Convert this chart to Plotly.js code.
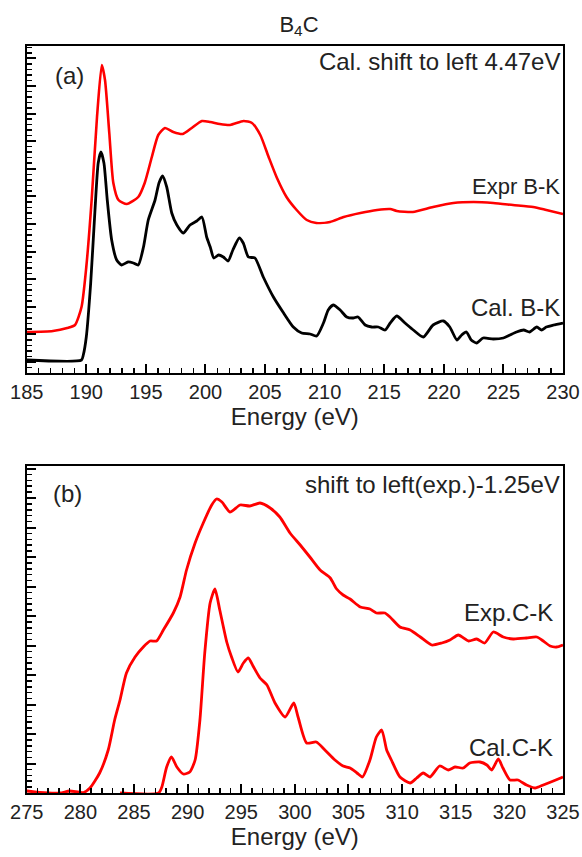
<!DOCTYPE html>
<html>
<head>
<meta charset="utf-8">
<script src="https://cdn.plot.ly/plotly-3.0.1.min.js"></script>
<style>html,body{margin:0;padding:0;background:#fff;}</style>
</head>
<body>
<div id="chart" style="width:582px;height:857px;"></div>
<script>
// ---------- Panel (a): B K-edge ----------
const bkExpEnergy = [185, 187.2, 188.4, 189.05, 189.6, 190.0, 190.45, 190.9, 191.3, 191.57, 191.93, 192.27, 192.7, 193.4, 194.36, 194.9, 195.5, 196.04, 196.6, 197.3, 198.1, 198.85, 199.7, 200.4, 201.2, 202.06, 203.2, 203.9, 204.6, 205.3, 206.0, 206.8, 207.65, 208.5, 209.3, 210.45, 211.6, 213.0, 214.4, 215.5, 216.05, 217.4, 219.1, 220.8, 222.5, 224.15, 225.8, 227.5, 228.6, 230];
const bkExpIntensity = [41, 42, 45, 48, 66, 106, 173, 256, 308, 293, 240, 190, 173, 169, 176, 190, 216, 238, 245, 241, 239, 245, 252, 251, 249, 248, 252, 250, 238, 216, 195, 176, 163, 153, 150, 151, 156, 160, 163, 164, 162, 161, 166, 170, 171, 170, 168, 166, 163, 159];

const bkCalEnergy = [185, 189.6, 189.75, 190.0, 190.37, 190.73, 191.0, 191.23, 191.48, 191.76, 192.13, 192.55, 192.97, 193.5, 193.95, 194.36, 194.8, 195.2, 195.77, 196.1, 196.4, 196.75, 197.17, 197.6, 198.14, 198.7, 199.27, 199.7, 200.1, 200.4, 200.7, 201.1, 201.5, 201.9, 202.3, 202.84, 203.17, 203.6, 204.15, 204.85, 205.7, 206.5, 207.37, 208.07, 208.77, 209.33, 209.9, 210.3, 210.72, 211.3, 211.85, 212.4, 212.8, 213.4, 213.95, 214.5, 215.07, 215.5, 216.05, 216.74, 217.44, 218.28, 219.1, 219.96, 220.5, 221.1, 221.5, 221.9, 222.3, 222.76, 223.3, 224.15, 225.0, 225.55, 226.1, 226.7, 227.2, 227.8, 228.2, 228.6, 229.2, 230];
const bkCalIntensity = [13, 13, 18, 36, 90, 163, 210, 221, 210, 173, 133, 113, 108, 111, 110, 108, 126, 153, 173, 190, 197, 186, 160, 148, 140, 148, 152, 156, 136, 126, 115, 118, 116, 112, 123, 135, 130, 116, 115, 96, 76, 61, 46, 40, 39, 37, 50, 63, 68, 63, 56, 55, 56, 48, 46, 46, 43, 50, 57, 50, 43, 36, 48, 52, 46, 33, 38, 41, 33, 30, 35, 34, 35, 38, 41, 43, 41, 46, 43, 46, 48, 50];

// ---------- Panel (b): C K-edge ----------
const ckExpEnergy = [275, 276.2, 278.1, 279.0, 280.3, 280.9, 281.8, 282.6, 283.2, 283.7, 284.3, 285.1, 285.87, 286.5, 287.1, 287.74, 288.67, 289.3, 289.9, 290.7, 291.46, 292.25, 292.7, 293.2, 293.95, 294.9, 295.8, 296.75, 297.7, 298.6, 299.55, 300.5, 301.4, 302.35, 303.3, 303.9, 304.5, 305.15, 306.1, 307.0, 307.6, 308.4, 308.87, 309.8, 310.75, 311.7, 312.76, 313.7, 314.46, 315.24, 316.2, 316.95, 317.7, 318.5, 319.43, 320.36, 321.6, 322.55, 323.16, 323.8, 324.4, 325];
const ckExpIntensity = [2, 0.5, 0, 2, 0.5, 5, 20, 43, 73, 93, 120, 136, 146, 152, 152, 163, 180, 196, 223, 250, 270, 288, 294, 291, 281, 288, 287, 290, 285, 276, 260, 248, 236, 223, 215, 204, 198, 194, 186, 184, 180, 180, 176, 166, 163, 156, 148, 150, 153, 158, 152, 154, 150, 161, 156, 154, 155, 156, 152, 147, 146, 148];

const ckCalEnergy = [283.7, 287.3, 287.6, 288.05, 288.5, 289.0, 289.6, 290.2, 290.7, 291.15, 291.6, 292.1, 292.55, 293.0, 293.65, 294.1, 294.7, 295.2, 295.66, 296.1, 296.75, 297.4, 298.15, 299.1, 299.9, 300.3, 301.1, 302.0, 302.8, 303.74, 304.5, 305.15, 305.8, 306.3, 307.0, 307.6, 308.1, 308.56, 309.0, 309.8, 310.75, 311.36, 311.97, 312.6, 313.5, 314.3, 314.93, 315.7, 316.3, 317.26, 317.9, 318.35, 318.97, 319.4, 320.06, 320.8, 321.6, 322.4, 323.16, 324.1, 325];
const ckCalIntensity = [0, 0, 6, 26, 36, 26, 19, 21, 33, 73, 140, 190, 204, 183, 151, 136, 121, 130, 135, 127, 115, 108, 90, 76, 90, 76, 50, 51, 43, 33, 27, 25, 20, 16, 33, 56, 63, 43, 33, 16, 10, 15, 20, 16, 27, 23, 26, 25, 30, 31, 28, 23, 34, 25, 13, 13, 8, 5, 8, 12, 16];

const FONT = '"Liberation Sans", Arial, Helvetica, sans-serif';
const W = 582, H = 857;
const px = v => v / W;
const py = v => 1 - v / H;

function line(x, y, color, width, xa, ya) {
  return {x: x, y: y, type: 'scatter', mode: 'lines', xaxis: xa, yaxis: ya,
          line: {color: color, width: width, shape: 'spline', smoothing: 0.6},
          hoverinfo: 'skip'};
}

const traces = [
  line(bkExpEnergy, bkExpIntensity, '#ff0000', 2.6, 'x', 'y'),
  line(bkCalEnergy, bkCalIntensity, '#000000', 2.8, 'x', 'y'),
  line(ckExpEnergy, ckExpIntensity, '#ff0000', 2.8, 'x2', 'y2'),
  line(ckCalEnergy, ckCalIntensity, '#ff0000', 2.8, 'x2', 'y2')
];

const frame = {showline: true, linecolor: '#000', linewidth: 2, mirror: true,
               zeroline: false, showgrid: false, ticks: 'inside', tickcolor: '#000'};
const xDomain = [px(26.7), px(563)];

function xAxis(r, anchor) {
  return Object.assign({}, frame, {
    domain: xDomain, anchor: anchor, range: r, tick0: r[0], dtick: 5,
    ticklen: 9, tickwidth: 2,
    minor: {ticks: 'inside', dtick: 1, ticklen: 5, tickwidth: 1.5, tickcolor: '#000'},
    tickfont: {size: 20, color: '#222', family: FONT},
    title: {text: 'Energy (eV)', font: {size: 24, color: '#222', family: FONT}, standoff: 4}
  });
}
function yAxis(dom, anchor, t0, dt) {
  return Object.assign({}, frame, {
    domain: dom, anchor: anchor, range: [0, 327], showticklabels: false,
    tick0: t0, dtick: dt, ticklen: 9, tickwidth: 2,
    minor: {ticks: 'inside', dtick: dt / 5, ticklen: 5, tickwidth: 1.5, tickcolor: '#000'}
  });
}

function label(text, x, y, xanchor, size) {
  return {text: text, xref: 'paper', yref: 'paper', x: px(x), y: py(y),
          xanchor: xanchor, yanchor: 'middle', showarrow: false,
          font: {size: size, color: '#222', family: FONT}};
}

const layout = {
  width: W, height: H,
  margin: {l: 0, r: 0, t: 0, b: 0},
  paper_bgcolor: '#fff', plot_bgcolor: '#fff',
  showlegend: false,
  font: {family: FONT, color: '#222'},
  title: {text: 'B<sub>4</sub>C', x: px(299), xanchor: 'center', y: py(24), yanchor: 'middle',
          font: {size: 22, color: '#222', family: FONT}},
  xaxis: xAxis([185, 230], 'y'),
  yaxis: yAxis([py(373), py(46)], 'x', 11, 27.6),
  xaxis2: xAxis([275, 325], 'y2'),
  yaxis2: yAxis([py(793), py(466)], 'x2', 0, 29.5),
  annotations: [
    label('(a)', 53, 75, 'left', 24),
    label('Cal. shift to left 4.47eV', 562, 61, 'right', 24),
    label('Expr B-K', 562, 186, 'right', 22),
    label('Cal. B-K', 562, 307, 'right', 24),
    label('(b)', 51, 493, 'left', 24),
    label('shift to left(exp.)-1.25eV', 562, 484, 'right', 24),
    label('Exp.C-K', 555, 612, 'right', 24),
    label('Cal.C-K', 555, 747, 'right', 24)
  ]
};

Plotly.newPlot('chart', traces, layout, {displayModeBar: false, staticPlot: true});
</script>
</body>
</html>
